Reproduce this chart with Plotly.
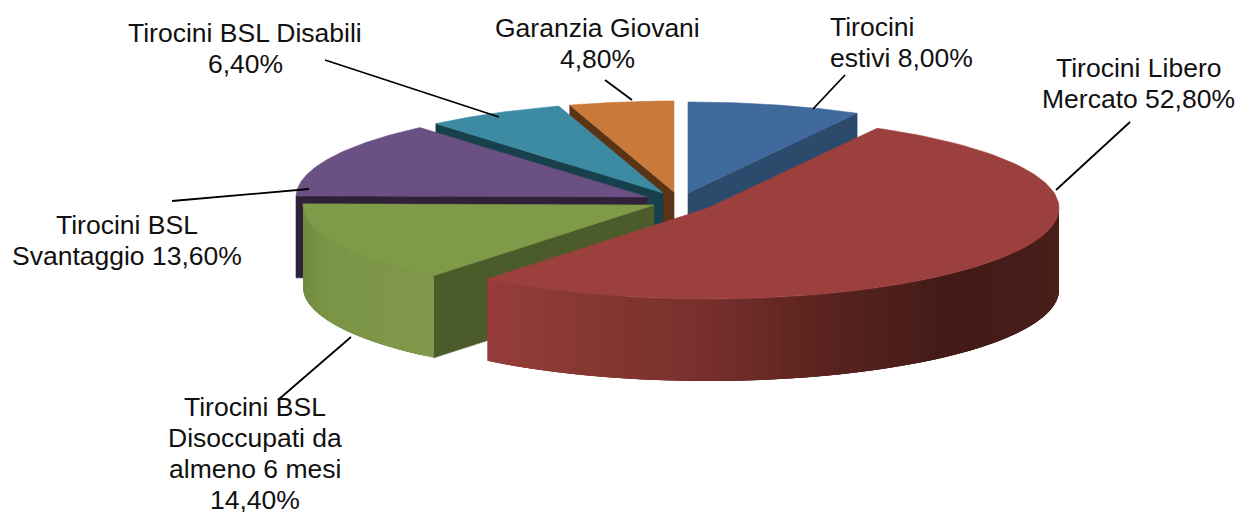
import numpy as np
import plotly.graph_objects as go

# Data, in chart order (clockwise from 12 o'clock)
names = ["Tirocini<br>estivi", "Tirocini Libero<br>Mercato",
         "Tirocini BSL<br>Disoccupati da<br>almeno 6 mesi<br>",
         "Tirocini BSL<br>Svantaggio", "Tirocini BSL Disabili<br>", "Garanzia Giovani<br>"]
values = [8.0, 52.8, 14.4, 13.6, 6.4, 4.8]

# Styling
top_col = ["#40699c", "#9c403e", "#7f9a48", "#6a5083", "#3d8ba3", "#c9793a"]
cut_col = ["#2b4a6c", "#4a1d19", "#4c5b2a", "#2e2139", "#173f4c", "#5a3415"]
apex_x = [688, 708, 654, 647, 663, 674]
apex_y = [193, 208, 205, 197, 193, 192]
RX, RY, DEPTH = 351, 91, 82
draw_order = [0, 5, 4, 3, 2, 1]
cut_edge = ["end", None, "start", "start", "start", "start"]  # edge of the slice showing its cut face
rim_stops = {
    1: [(487, "#973d3b"), (600, "#84362f"), (700, "#78302d"), (800, "#5f2521"),
        (880, "#4f201c"), (960, "#421a16"), (1059, "#4a1e1a")],
    2: [(303, "#6f8a42"), (320, "#7a9446"), (434, "#80994a")],
}
label_x = [828, 1138, 255, 127, 245, 597]
label_y = [27, 68, 407, 225, 33, 28]  # first line centre
label_anchor = ["left", "center", "center", "center", "center", "center"]
LINE_STEP = 31
leader_x = [[813, 845], [1056, 1130], [351, 278], [309, 172], [499, 325], [632, 605]]
leader_y = [[109, 75], [190, 122], [337, 400], [189, 201], [117, 60], [100, 80]]


def hex_rgb(c):
    return np.array([int(c[i:i + 2], 16) for i in (1, 3, 5)], float)


def grad(stops, x):
    xs = [s[0] for s in stops]
    chans = np.array([hex_rgb(s[1]) for s in stops])
    v = [np.interp(x, xs, chans[:, k]) for k in range(3)]
    return "rgb(%d,%d,%d)" % tuple(round(a) for a in v)


def poly(fig, xs, ys, color, lw=0.6):
    fig.add_trace(go.Scatter(x=xs, y=ys, mode="lines", fill="toself", fillcolor=color,
                             line=dict(color=color, width=lw), hoverinfo="skip",
                             showlegend=False))


fig = go.Figure()
edges = np.concatenate([[0], np.cumsum(values)]) / sum(values) * 2 * np.pi

for i in draw_order:
    a0, a1 = edges[i], edges[i + 1]
    ax, ay = apex_x[i], apex_y[i]
    px = lambda t: ax + RX * np.sin(t)
    py = lambda t: ay - RY * np.cos(t)
    # cut face
    if cut_edge[i] is not None:
        t = a1 if cut_edge[i] == "end" else a0
        poly(fig, [ax, px(t), px(t), ax, ax], [ay, py(t), py(t) + DEPTH, ay + DEPTH, ay], cut_col[i])
    # outer rim (only front half faces the viewer); overlapping bands hide the seams
    lo, hi = max(a0, np.pi / 2), min(a1, 3 * np.pi / 2)
    if hi > lo:
        n = max(2, int((hi - lo) / 0.025))
        tt = np.linspace(lo, hi, n + 1)
        for k in range(n):
            tb = np.linspace(tt[k], tt[min(k + 3, n)], 5)
            col = grad(rim_stops[i], px((tt[k] + tt[k + 1]) / 2)) if i in rim_stops else cut_col[i]
            poly(fig, np.r_[px(tb), px(tb)[::-1], px(tb[0])],
                 np.r_[py(tb), py(tb)[::-1] + DEPTH, py(tb[0])], col, lw=0)
    # top face
    tt = np.linspace(a0, a1, 120)
    poly(fig, np.r_[ax, px(tt), ax], np.r_[ay, py(tt), ay], top_col[i])

# leader lines
for lx, ly in zip(leader_x, leader_y):
    fig.add_trace(go.Scatter(x=lx, y=ly, mode="lines", line=dict(color="black", width=1.8),
                             hoverinfo="skip", showlegend=False))

# labels, one annotation per line for the tight line spacing
for i, nm in enumerate(names):
    sep = "" if nm.endswith("<br>") else " "
    pct = f"{values[i]:.2f}".replace(".", ",") + "%"
    for j, line in enumerate(f"{nm}{sep}{pct}".split("<br>")):
        fig.add_annotation(x=label_x[i], y=label_y[i] + j * LINE_STEP, text=line, showarrow=False,
                           xanchor=label_anchor[i], yanchor="middle", align=label_anchor[i],
                           font=dict(family="Liberation Sans, Arial, sans-serif", size=26.5, color="#111111"))

fig.update_layout(width=1239, height=512, margin=dict(l=0, r=0, t=0, b=0),
                  paper_bgcolor="white", plot_bgcolor="white", showlegend=False,
                  xaxis=dict(visible=False, range=[0, 1239], fixedrange=True),
                  yaxis=dict(visible=False, range=[512, 0], fixedrange=True))
fig.write_html("out.html", config={"displayModeBar": False},
               post_script="document.body.style.margin='0';")
